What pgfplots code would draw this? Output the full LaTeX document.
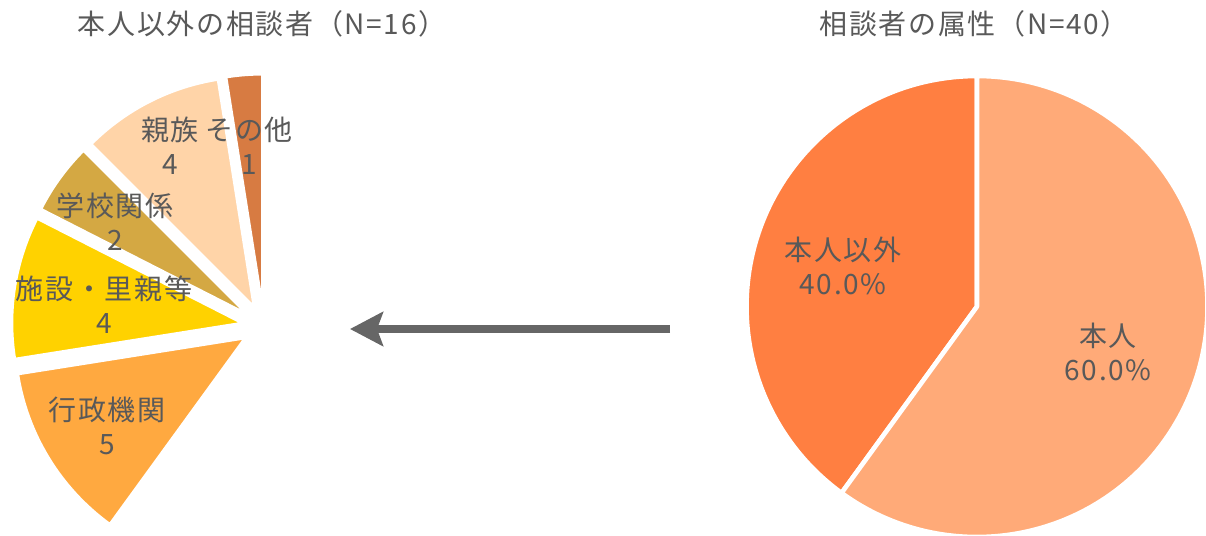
\documentclass[border=0pt]{standalone}
\usepackage{fontspec}
\setmainfont{Noto Sans CJK JP}[LetterSpace=6]
\usepackage{pgfplots}
\pgfplotsset{compat=1.18}
\usetikzlibrary{calc,arrows.meta}

\definecolor{cOther}{HTML}{D77B42}
\definecolor{cFamily}{HTML}{FFD4A8}
\definecolor{cSchool}{HTML}{D4A843}
\definecolor{cFacility}{HTML}{FFD200}
\definecolor{cAdmin}{HTML}{FFA940}
\definecolor{cNotSelf}{HTML}{FF7F41}
\definecolor{cSelf}{HTML}{FFAA78}
\definecolor{txt}{HTML}{595959}
\definecolor{arrowgray}{HTML}{666666}

% 1 px of the reference = 0.25pt
% #1 cx, #2 cy, #3 radius (px), #4 explode (px), #5 start angle, #6 end angle, #7 style
\newcommand{\sector}[7]{%
  \fill[draw=white, line join=round, #7]
    ($(axis cs:#1,#2)+({(#5+#6)/2}:{#4*0.25pt})$) -- ++({#5}:{#3*0.25pt})
    arc[start angle={#5}, end angle={#6}, radius={#3*0.25pt}] -- cycle;
}
% left pie: total N=40, only the 16 "others" are shown
% #1 cumulative count before, #2 count, #3 colour
\newcommand{\leftslice}[3]{%
  \sector{264}{208.5}{229}{23}{90+(#1)/40*360}{90+(#1+#2)/40*360}{fill=#3, line width=0.5pt}}
% right pie: #1 cumulative percent before, #2 percent, #3 colour
\newcommand{\rightslice}[3]{%
  \sector{977}{228.5}{230.5}{0}{90+3.6*(#1)}{90+3.6*(#1+#2)}{fill=#3, line width=1.15pt}}

\tikzset{lbl/.style={text=txt, align=center, font=\fontsize{7pt}{8.5pt}\selectfont}}

\begin{document}
\begin{tikzpicture}
\useasboundingbox (0,0) rectangle (301.5pt,133.75pt);
\begin{axis}[
  at={(0,0)}, anchor=south west,
  scale only axis, width=301.5pt, height=133.75pt,
  xmin=0, xmax=1206, ymin=0, ymax=535,
  hide axis, clip=false]

% ---- left: breakdown of the 16 others (N=16) ----
\leftslice{0}{1}{cOther}     % その他 1
\leftslice{1}{4}{cFamily}    % 親族 4
\leftslice{5}{2}{cSchool}    % 学校関係 2
\leftslice{7}{4}{cFacility}  % 施設・里親等 4
\leftslice{11}{5}{cAdmin}    % 行政機関 5

% ---- right: 本人 60.0%, 本人以外 40.0% ----
\rightslice{0}{40}{cNotSelf}
\rightslice{40}{60}{cSelf}

% arrow
\draw[arrowgray, line width=1.75pt, -{Stealth[length=8.25pt, width=8.5pt, inset=1.5pt]}]
  (axis cs:670,206) -- (axis cs:350,206);

% titles
\node[lbl] at (axis cs:262,511) {本人以外の相談者（N=16）};
\node[lbl] at (axis cs:974,511) {相談者の属性（N=40）};

% labels
\node[lbl] at (axis cs:170,389) {親族\\4};
\node[lbl] at (axis cs:249,389) {その他\\1};
\node[lbl] at (axis cs:115,313) {学校関係\\2};
\node[lbl] at (axis cs:104,230) {施設・里親等\\4};
\node[lbl] at (axis cs:107,109.5) {行政機関\\5};
\node[lbl] at (axis cs:843,269) {本人以外\\40.0\%};
\node[lbl] at (axis cs:1108,183.5) {本人\\60.0\%};
\end{axis}
\end{tikzpicture}
\end{document}
